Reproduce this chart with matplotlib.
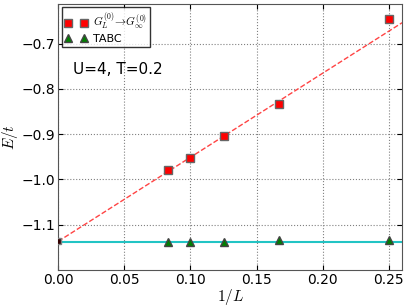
import numpy as np
import matplotlib
matplotlib.use('Agg')
import matplotlib.pyplot as plt

# data
inv_L = [1/12., 1/10., 1/8., 1/6., 1/4.]
e_extrap = [-0.979, -0.953, -0.905, -0.8325, -0.645]
e_tabc = [-1.138, -1.139, -1.138, -1.134, -1.134]
e_inf = -1.1375
fit_coef = [1.86, -1.137]   # slope, intercept of the dashed extrapolation

plt.rcParams['mathtext.fontset'] = 'cm'

fig = plt.figure(figsize=(4.07, 3.07), dpi=100)
ax = fig.add_axes([0.143, 0.121, 0.845, 0.866])

xx = np.linspace(0, 0.26, 50)
ax.plot(xx, np.polyval(fit_coef, xx), '--', color='#ff4444', lw=1.0, zorder=2)
ax.axhline(e_inf, color='#22c4c4', lw=1.5, zorder=1)
# extrapolated value at 1/L = 0 (half hidden by the axis edge)
ax.plot([0], [fit_coef[1]], 's', color='#330000', ms=4, mec='gray', zorder=3)

ax.plot(inv_L, e_extrap, 's', color='red', mec='#666666', ms=6,
        label=r'$G_L^{(0)}\!\to\! G_\infty^{(0)}$', zorder=4)
ax.plot(inv_L, e_tabc, '^', color='green', mec='#444444', ms=6,
        label='TABC', zorder=4)

ax.text(0.011, -0.757, 'U=4, T=0.2', fontsize=11, va='center')

ax.set_xlim(0, 0.26)
ax.set_ylim(-1.2, -0.612)
ax.set_xticks([0, 0.05, 0.1, 0.15, 0.2, 0.25])
ax.set_yticks([-1.1, -1.0, -0.9, -0.8, -0.7])
ax.tick_params(labelsize=10, direction='in', pad=2, top=True, right=True)
ax.grid(True, ls=':', color='gray')
ax.set_xlabel(r'$1/L$', fontsize=11, labelpad=0)
ax.set_ylabel(r'$E/t$', fontsize=11, labelpad=1)
for s in ax.spines.values():
    s.set_color('#555555')

leg = ax.legend(loc='upper left', numpoints=2, fontsize=8, fancybox=False,
                borderaxespad=0.3, handletextpad=0.5, labelspacing=0.15,
                borderpad=0.3)
leg.get_frame().set_edgecolor('black')

fig.savefig('out.png', dpi=100)
